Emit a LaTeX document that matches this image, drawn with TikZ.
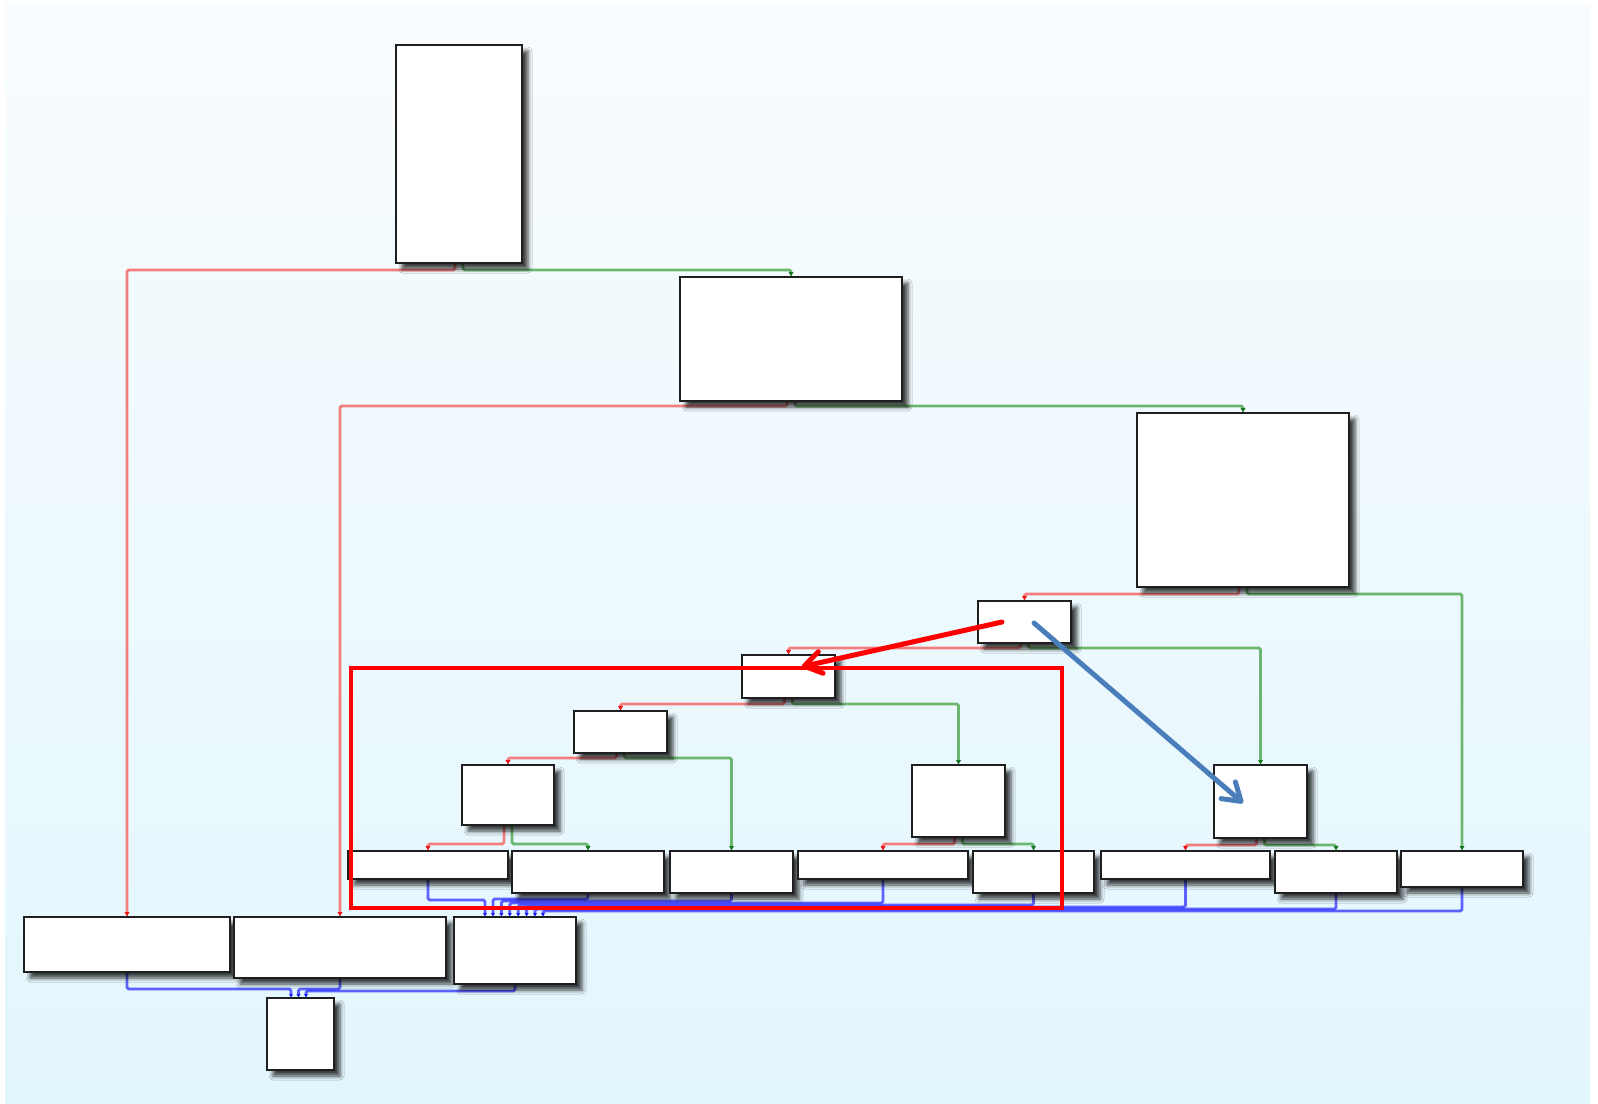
\documentclass[tikz,border=0pt]{standalone}
\usetikzlibrary{arrows.meta,shadows.blur,fit}

\definecolor{bgtop}{RGB}{249,252,254}
\definecolor{bgbot}{RGB}{226,246,253}
\definecolor{linkred}{RGB}{243,126,126}
\definecolor{linkgreen}{RGB}{108,183,112}
\definecolor{tipred}{RGB}{235,20,20}
\definecolor{tipgreen}{RGB}{20,120,30}
\definecolor{markblue}{RGB}{74,126,187}

\tikzset{
  blk/.style={draw=black!88, line width=1pt, fill=white, inner sep=0pt, outer sep=0pt,
    blur shadow={shadow xshift=3pt, shadow yshift=-3pt, shadow blur radius=2pt, shadow opacity=75}},
  link/.style={line width=1.4pt, rounded corners=0.8pt},
  nobranch/.style={link, draw=linkred, -{Latex[length=2.4pt,width=2.6pt,color=tipred]}},
  yesbranch/.style={link, draw=linkgreen, -{Latex[length=2.4pt,width=2.6pt,color=tipgreen]}},
  merge/.style={link, draw=blue, draw opacity=0.6, -{Latex[length=2pt,width=2.4pt]}},
  focusbox/.style={draw=red, line width=2.3pt, inner sep=0pt, outer sep=0pt},
  markarrow/.style={line width=2.5pt, line cap=round,
    -{Straight Barb[length=8.5pt,width=11pt,line width=2.5pt,round]}},
}

\begin{document}
\begin{tikzpicture}[x=0.5pt, y=-0.5pt]
  % canvas and gradient backdrop
  \fill[white] (0,0) rectangle (1598,1103);
  \shade[top color=bgtop, bottom color=bgbot] (5,3) rectangle (1590,1103);
  \useasboundingbox (0,0) rectangle (1598,1103);

  % block placement (invisible pass to name them before connectors are drawn)
  \begin{scope}[every node/.style={inner sep=0pt, outer sep=0pt}]
    \node[fit={(396,45) (522,263)}] (A) {};
    \node[fit={(680,277) (902,401)}] (B) {};
    \node[fit={(1137,413) (1349,587)}] (C) {};
    \node[fit={(978,601) (1071,643)}] (D) {};
    \node[fit={(742,655) (835,698)}] (E) {};
    \node[fit={(574,711) (667,753)}] (F) {};
    \node[fit={(462,765) (554,825)}] (G) {};
    \node[fit={(912,765) (1005,837)}] (H) {};
    \node[fit={(1214,765) (1307,838)}] (I) {};
    \node[fit={(348,851) (508,879)}] (J1) {};
    \node[fit={(512,851) (664,893)}] (J2) {};
    \node[fit={(670,851) (793,893)}] (J3) {};
    \node[fit={(798,851) (968,879)}] (J4) {};
    \node[fit={(973,851) (1094,893)}] (J5) {};
    \node[fit={(1101,851) (1270,879)}] (J6) {};
    \node[fit={(1275,851) (1397,893)}] (J7) {};
    \node[fit={(1401,851) (1523,887)}] (J8) {};
    \node[fit={(24,917) (230,972)}] (K1) {};
    \node[fit={(234,917) (446,978)}] (K2) {};
    \node[fit={(454,917) (576,984)}] (K3) {};
    \node[fit={(267,998) (334,1070)}] (L) {};
  \end{scope}

  % conditional branches: red = false, green = true
  \draw[nobranch]  ([xshift=-2pt]A.south) -- ++(0,7) -| (K1.north);
  \draw[yesbranch] ([xshift=2pt]A.south)  -- ++(0,7) -| (B.north);
  \draw[nobranch]  ([xshift=-2pt]B.south) -- ++(0,5) -| (K2.north);
  \draw[yesbranch] ([xshift=2pt]B.south)  -- ++(0,5) -| (C.north);
  \draw[nobranch]  ([xshift=-2pt]C.south) -- ++(0,7) -| (D.north);
  \draw[yesbranch] ([xshift=2pt]C.south)  -- ++(0,7) -| (J8.north);
  \draw[nobranch]  ([xshift=-2pt]D.south) -- ++(0,5) -| (E.north);
  \draw[yesbranch] ([xshift=2pt]D.south)  -- ++(0,5) -| (I.north);
  \draw[nobranch]  ([xshift=-2pt]E.south) -- ++(0,6) -| (F.north);
  \draw[yesbranch] ([xshift=2pt]E.south)  -- ++(0,6) -| (H.north);
  \draw[nobranch]  ([xshift=-2pt]F.south) -- ++(0,5) -| (G.north);
  \draw[yesbranch] ([xshift=2pt]F.south)  -- ++(0,5) -| (J3.north);
  \draw[nobranch]  ([xshift=-2pt]G.south) -- ++(0,19) -| (J1.north);
  \draw[yesbranch] ([xshift=2pt]G.south)  -- ++(0,19) -| (J2.north);
  \draw[nobranch]  ([xshift=-2pt]H.south) -- ++(0,7) -| (J4.north);
  \draw[yesbranch] ([xshift=2pt]H.south)  -- ++(0,7) -| (J5.north);
  \draw[nobranch]  ([xshift=-2pt]I.south) -- ++(0,7) -| (J6.north);
  \draw[yesbranch] ([xshift=2pt]I.south)  -- ++(0,7) -| (J7.north);

  % unconditional jumps into the merge blocks
  \draw[merge] (J1.south) -- ++(0,21) -| ([xshift=-15pt]K3.north);
  \draw[merge] (J2.south) -- ++(0,6)  -| ([xshift=-11pt]K3.north);
  \draw[merge] (J3.south) -- ++(0,8)  -| ([xshift=-6.8pt]K3.north);
  \draw[merge] (J4.south) -- ++(0,24) -| ([xshift=-2.6pt]K3.north);
  \draw[merge] (J5.south) -- ++(0,12) -| ([xshift=1.6pt]K3.north);
  \draw[merge] (J6.south) -- ++(0,28) -| ([xshift=5.8pt]K3.north);
  \draw[merge] (J7.south) -- ++(0,16) -| ([xshift=10pt]K3.north);
  \draw[merge] (J8.south) -- ++(0,24) -| ([xshift=14pt]K3.north);
  \draw[merge] (K1.south) -- ++(0,17) -| ([xshift=-4.75pt]L.north);
  \draw[merge] (K2.south) -- ++(0,11) -| ([xshift=-1pt]L.north);
  \draw[merge] (K3.south) -- ++(0,7)  -| ([xshift=2.75pt]L.north);

  % the blocks themselves, drawn over the connectors
  \foreach \n in {A,B,C,D,E,F,G,H,I,J1,J2,J3,J4,J5,J6,J7,J8,K1,K2,K3,L}
    \node[blk, fit=(\n)] {};

  % highlighted region and the two marker arrows
  \node[focusbox, fit={(351,668) (1062,908)}] (focus) {};
  \draw[markarrow, red] ([xshift=-11.25pt]D.center) -- ([xshift=6.6pt,yshift=4.9pt]E.center);
  \draw[markarrow, markblue] ([xshift=4.75pt,yshift=-0.5pt]D.center) -- ([xshift=-8.75pt,yshift=-0.75pt]I.center);
\end{tikzpicture}
\end{document}
